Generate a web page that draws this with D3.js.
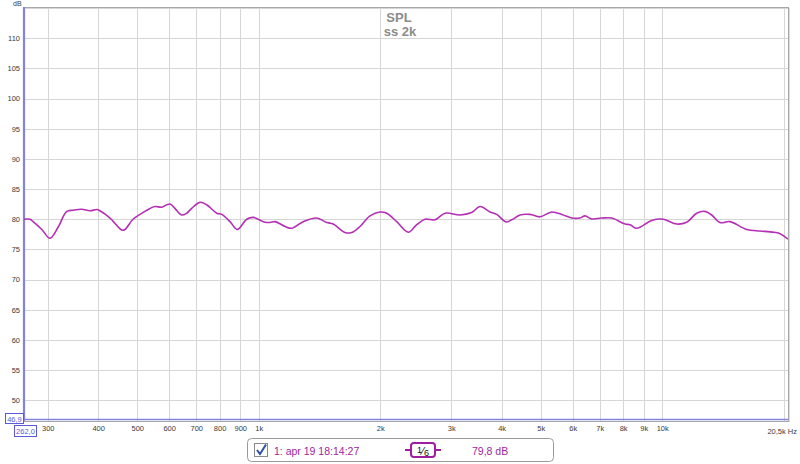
<!DOCTYPE html>
<html><head><meta charset="utf-8">
<script src="https://cdn.jsdelivr.net/npm/d3@7"></script>
<style>
html,body{margin:0;padding:0;background:#fff;}
svg{display:block;font-family:"Liberation Sans",Arial,sans-serif;}
</style></head>
<body><svg id="chart" width="800" height="464"></svg>
<script>
// ---- data ----
const freqs = [262, 271, 276, 290, 304, 319, 334, 347, 364, 382, 397, 404, 428, 458, 466, 488, 508, 528, 553, 575, 592, 605, 620, 644, 663, 682, 715, 743, 787, 810, 849, 885, 934, 970, 1027, 1066, 1097, 1162, 1207, 1289, 1392, 1474, 1530, 1636, 1700, 1783, 1887, 1998, 2076, 2198, 2349, 2464, 2583, 2735, 2895, 3154, 3372, 3536, 3743, 3889, 4101, 4237, 4442, 4702, 4979, 5323, 5636, 5967, 6255, 6437, 6688, 7080, 7497, 8089, 8323, 8647, 9418, 10062, 10863, 11501, 12175, 12765, 13263, 13907, 14725, 16198, 17470, 18497, 19398, 20500];
const spl = [80.0, 80.0, 79.6, 78.3, 76.85, 78.8, 81.27, 81.5, 81.65, 81.4, 81.6, 81.4, 80.2, 78.2, 78.3, 80.0, 80.8, 81.5, 82.1, 82.0, 82.4, 82.5, 81.8, 80.7, 81.0, 81.8, 82.8, 82.4, 81.0, 80.8, 79.6, 78.3, 80.0, 80.3, 79.6, 79.45, 79.6, 78.8, 78.5, 79.6, 80.2, 79.45, 79.2, 77.8, 77.8, 78.8, 80.55, 81.2, 81.0, 79.6, 77.85, 79.1, 80.0, 79.9, 81.0, 80.7, 81.1, 82.1, 81.2, 80.8, 79.55, 79.9, 80.7, 80.8, 80.4, 81.2, 80.8, 80.2, 80.2, 80.55, 80.05, 80.2, 80.2, 79.2, 79.1, 78.5, 79.8, 80.0, 79.2, 79.5, 81.0, 81.3, 80.7, 79.45, 79.6, 78.3, 78.05, 77.9, 77.7, 76.7];
const xTickValues = [300, 400, 500, 600, 700, 800, 900, 1000, 2000, 3000, 4000, 5000, 6000, 7000, 8000, 9000, 10000];
const xTickLabels = ["300", "400", "500", "600", "700", "800", "900", "1k", "2k", "3k", "4k", "5k", "6k", "7k", "8k", "9k", "10k"];
const xGridExtra = [20000];
const yTickValues = [50, 55, 60, 65, 70, 75, 80, 85, 90, 95, 100, 105, 110];
const yGridExtra = [115];
const titleLines = ["SPL", "ss 2k"];
const legendName = "1: apr 19 18:14:27";
const legendValue = "79,8 dB";
const xMin = 262, xMax = 20500, yMin = 46.9, yMax = 115;

// ---- layout ----
const L = 24, R = 788, T = 8, B = 419;
const svg = d3.select("#chart");
const x = d3.scaleLog().domain([xMin, xMax]).range([L, R]);
const y = d3.scaleLinear().domain([yMin, yMax]).range([B, T]);

const gridColor = "#d6d6d6";
const axisBlue = "#8484e0";
const textBlue = "#5a5ad8";
const purple = "#b42fb4";
const legendPurple = "#9d1f9d";

// grid
const grid = svg.append("g");
[...xTickValues, ...xGridExtra].forEach(v => {
  const px = Math.round(x(v)) + 0.5;
  grid.append("line").attr("x1", px).attr("x2", px).attr("y1", T).attr("y2", B + 2)
    .attr("stroke", gridColor).attr("stroke-width", 1);
});
[...yTickValues, ...yGridExtra].forEach(v => {
  const py = Math.round(y(v)) + 0.5;
  grid.append("line").attr("x1", L).attr("x2", R).attr("y1", py).attr("y2", py)
    .attr("stroke", gridColor).attr("stroke-width", 1);
});

// frame
svg.append("rect").attr("x", L + 0.5).attr("y", T - 0.5).attr("width", R - L).attr("height", B + 2 - T + 1)
  .attr("fill", "none").attr("stroke", "#a8a8a8").attr("stroke-width", 1);
svg.append("line").attr("x1", R + 1.5).attr("x2", R + 1.5).attr("y1", T).attr("y2", B + 3)
  .attr("stroke", "#dcdcdc");

// blue axis lines
svg.append("line").attr("x1", L).attr("x2", L).attr("y1", T - 1).attr("y2", B + 2)
  .attr("stroke", axisBlue).attr("stroke-width", 2.2);
svg.append("line").attr("x1", L).attr("x2", R).attr("y1", Math.round(y(yMin)) + 0.5).attr("y2", Math.round(y(yMin)) + 0.5)
  .attr("stroke", axisBlue).attr("stroke-width", 1.3);

// axes labels via d3 axes
const xAxis = d3.axisBottom(x).tickValues(xTickValues)
  .tickFormat((d, i) => xTickLabels[i]).tickSize(0).tickPadding(0);
const gx = svg.append("g").attr("transform", `translate(0,${B + 9})`).call(xAxis);
gx.select(".domain").remove();
gx.selectAll("text").attr("font-size", 7.5).attr("fill", "#3a3a3a")
  .attr("font-family", "'Liberation Sans',Arial,sans-serif").attr("dy", "0.4em");

const yAxis = d3.axisLeft(y).tickValues(yTickValues).tickSize(0).tickPadding(0);
const gy = svg.append("g").attr("transform", `translate(${L - 4},0)`).call(yAxis);
gy.select(".domain").remove();
gy.selectAll("text").attr("font-size", 7.5).attr("fill", "#3a3a3a")
  .attr("font-family", "'Liberation Sans',Arial,sans-serif");

svg.append("text").attr("x", 13).attr("y", 6).attr("font-size", 7).attr("fill", "#3a3a3a").text("dB");
svg.append("text").attr("x", R + 9).attr("y", B + 15).attr("text-anchor", "end")
  .attr("font-size", 7.5).attr("fill", "#3a3a3a").text("20,5k Hz");

// min value boxes
svg.append("rect").attr("x", 5.5).attr("y", 413.5).attr("width", 18).attr("height", 10)
  .attr("fill", "#fff").attr("stroke", textBlue).attr("stroke-width", 1);
svg.append("text").attr("x", 14.5).attr("y", 421.5).attr("text-anchor", "middle")
  .attr("font-size", 7.5).attr("fill", textBlue).text("46,9");
svg.append("rect").attr("x", 14.5).attr("y", 425.5).attr("width", 22).attr("height", 11)
  .attr("fill", "#fff").attr("stroke", textBlue).attr("stroke-width", 1);
svg.append("text").attr("x", 25.5).attr("y", 434).attr("text-anchor", "middle")
  .attr("font-size", 7.5).attr("fill", textBlue).text("262,0");

// title
svg.append("text").attr("x", 399).attr("y", 21.5).attr("text-anchor", "middle")
  .attr("font-size", 13).attr("font-weight", "bold").attr("fill", "#8c8c8c").text(titleLines[0]);
svg.append("text").attr("x", 400).attr("y", 36).attr("text-anchor", "middle")
  .attr("font-size", 13).attr("font-weight", "bold").attr("fill", "#8c8c8c").text(titleLines[1]);

// curve
svg.append("clipPath").attr("id", "clip").append("rect")
  .attr("x", L).attr("y", T).attr("width", R - L).attr("height", B - T);
const pts = freqs.map((f, i) => [f, spl[i]]);
const line = d3.line().x(d => x(d[0])).y(d => y(d[1])).curve(d3.curveCatmullRom.alpha(0.5));
svg.append("path").attr("clip-path", "url(#clip)").datum(pts).attr("d", line)
  .attr("fill", "none").attr("stroke", purple).attr("stroke-width", 1.6).attr("stroke-linejoin", "round");

// legend
const lg = svg.append("g");
lg.append("rect").attr("x", 247.5).attr("y", 438.5).attr("width", 306).attr("height", 23).attr("rx", 4)
  .attr("fill", "#fff").attr("stroke", "#9a9a9a");
lg.append("rect").attr("x", 254.5).attr("y", 443.5).attr("width", 13).attr("height", 13)
  .attr("fill", "#fff").attr("stroke", "#8a8a8a");
lg.append("path").attr("d", "M257,450 L260,454 L266,444.5").attr("fill", "none")
  .attr("stroke", "#2f4fa8").attr("stroke-width", 2);
lg.append("text").attr("x", 274).attr("y", 454.5).attr("font-size", 10.5).attr("fill", legendPurple).text(legendName);
lg.append("line").attr("x1", 405).attr("x2", 441).attr("y1", 450).attr("y2", 450)
  .attr("stroke", legendPurple).attr("stroke-width", 2);
lg.append("rect").attr("x", 411).attr("y", 443).attr("width", 24).attr("height", 14).attr("rx", 3)
  .attr("fill", "#fff").attr("stroke", legendPurple).attr("stroke-width", 2);
const frac = lg.append("text").attr("x", 423).attr("y", 454.5).attr("text-anchor", "middle").attr("fill", "#111");
frac.append("tspan").attr("font-size", 9).attr("dy", -2).text("1");
frac.append("tspan").attr("font-size", 11).attr("dy", 2).text("⁄");
frac.append("tspan").attr("font-size", 9).attr("dy", 1).text("6");
lg.append("text").attr("x", 472).attr("y", 454.5).attr("font-size", 10.5).attr("fill", legendPurple).text(legendValue);
</script></body></html>
